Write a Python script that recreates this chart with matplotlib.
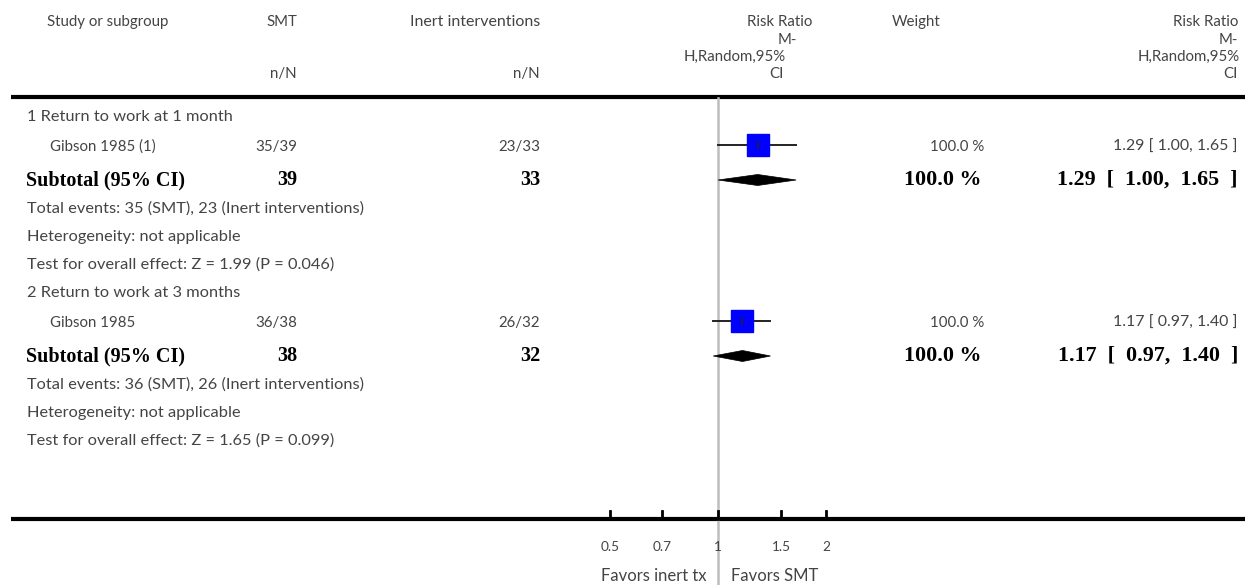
import matplotlib
matplotlib.use("Agg")
import matplotlib.pyplot as plt
from matplotlib.patches import Polygon
import numpy as np

# ---------------- data ----------------
header_cols = ["Study or subgroup", "SMT", "Inert interventions", "Weight"]
effect_header = ["Risk Ratio", "M-", "H,Random,95%", "CI"]
group_titles = ["1 Return to work at 1 month", "2 Return to work at 3 months"]
study_names = ["Gibson 1985 (1)", "Gibson 1985"]
smt_events = [35, 36]
smt_total = [39, 38]
inert_events = [23, 26]
inert_total = [33, 32]
rr = [1.29, 1.17]
rr_lo = [1.00, 0.97]
rr_hi = [1.65, 1.40]
weights = [100.0, 100.0]
z_values = ["1.99", "1.65"]
p_values = ["0.046", "0.099"]
tick_values = [0.5, 0.7, 1, 1.5, 2]
tick_labels = ["0.5", "0.7", "1", "1.5", "2"]
favors = ["Favors inert tx", "Favors SMT"]

# ---------------- layout ----------------
W, H = 1259, 585
fig = plt.figure(figsize=(W / 100, H / 100), dpi=100)
ax = fig.add_axes([0, 0, 1, 1])
ax.set_xlim(0, W)
ax.set_ylim(H, 0)
ax.axis("off")

# forest axes: log scale, 1 at px 718, 156 px per ln unit
fx0, fx1 = 560, 880
ln_lo = (fx0 - 718) / 156.0
ln_hi = (fx1 - 718) / 156.0
fax = fig.add_axes([fx0 / W, 0, (fx1 - fx0) / W, 1])
fax.set_xscale("log")
fax.set_xlim(np.exp(ln_lo), np.exp(ln_hi))
fax.set_ylim(H, 0)
fax.axis("off")
fax.patch.set_alpha(0)

FAM = ["Lato", "DejaVu Sans"]
HDR = dict(family=FAM, fontsize=10.8, color="#444444")
BODY = dict(family=FAM, fontsize=11.8, color="#444444")
NUM = dict(family=FAM, fontsize=10.8, color="#444444")
CIS = dict(family=FAM, fontsize=11.4, color="#444444")
BOLD = dict(family=["Liberation Serif", "DejaVu Serif"], fontsize=14.5, color="black", weight="bold")
BOLDR = dict(BOLD, fontsize=15.8)

# header
ax.text(108, 22, header_cols[0], ha="center", va="center", **HDR)
ax.text(297, 22, header_cols[1], ha="right", va="center", **HDR)
ax.text(540, 22, header_cols[2], ha="right", va="center", **dict(HDR, fontsize=11.5))
ax.text(916, 22, header_cols[3], ha="center", va="center", **HDR)
ax.text(297, 74, "n/N", ha="right", va="center", **HDR)
ax.text(540, 74, "n/N", ha="right", va="center", **HDR)

hdr_y = [22, 40, 57, 74]
mid_right = [812, 797, 786, 784]
right_right = [1238, 1238, 1240, 1238]
for t, y, xm, xr in zip(effect_header, hdr_y, mid_right, right_right):
    ax.text(xm, y, t, ha="right", va="center", **HDR)
    ax.text(xr, y, t, ha="right", va="center", **HDR)

ax.plot([11, 1245], [97, 97], color="black", lw=3, solid_capstyle="butt")
ax.plot([11, 1245], [519, 519], color="black", lw=3, solid_capstyle="butt")

# reference line at RR = 1
fax.plot([1, 1], [98, 585], color="#bdbdbd", lw=1.8, zorder=1)

SP = "  "
group_y0 = [117, 293]
for g in range(2):
    y0 = group_y0[g]
    y_study = y0 + 30
    y_sub = y0 + 63
    ax.text(27, y0, group_titles[g], ha="left", va="center", **BODY)
    ax.text(50, y_study, study_names[g], ha="left", va="center", **NUM)
    ax.text(297, y_study, f"{smt_events[g]}/{smt_total[g]}", ha="right", va="center", **NUM)
    ax.text(540, y_study, f"{inert_events[g]}/{inert_total[g]}", ha="right", va="center", **NUM)
    ax.text(984, y_study, f"{weights[g]:.1f} %", ha="right", va="center", **NUM)
    ax.text(1238, y_study, f"{rr[g]:.2f} [ {rr_lo[g]:.2f}, {rr_hi[g]:.2f} ]",
            ha="right", va="center", **CIS)

    ax.text(26, y_sub, "Subtotal (95% CI)", ha="left", va="center", **BOLD)
    ax.text(297, y_sub, f"{smt_total[g]}", ha="right", va="center", **BOLD)
    ax.text(540, y_sub, f"{inert_total[g]}", ha="right", va="center", **BOLD)
    ax.text(982, y_sub, f"{weights[g]:.1f} %", ha="right", va="center", **BOLDR)
    ax.text(1238, y_sub, f"{rr[g]:.2f}{SP}[{SP}{rr_lo[g]:.2f},{SP}{rr_hi[g]:.2f}{SP}]",
            ha="right", va="center", **BOLDR)

    ax.text(27, y0 + 92, f"Total events: {smt_events[g]} (SMT), {inert_events[g]} (Inert interventions)",
            ha="left", va="center", **BODY)
    ax.text(27, y0 + 120, "Heterogeneity: not applicable", ha="left", va="center", **BODY)
    ax.text(27, y0 + 148, f"Test for overall effect: Z = {z_values[g]} (P = {p_values[g]})",
            ha="left", va="center", **BODY)

    # study CI and square
    fax.plot([rr_lo[g], rr_hi[g]], [y_study - 2, y_study - 2], color="#222222", lw=1.4, zorder=2)
    fax.plot([rr[g]], [y_study - 2], marker="s", ms=15.8, mfc="#0000ff", mec="#0000ff",
             ls="none", zorder=3)
    fax.plot([rr[g], rr[g]], [y_study - 5, y_study + 1], color="#222222", lw=1.2, zorder=4)
    # subtotal diamond
    dia = Polygon([(rr_lo[g], y_sub), (rr[g], y_sub - 5.5), (rr_hi[g], y_sub), (rr[g], y_sub + 5.5)],
                  closed=True, facecolor="black", edgecolor="black", lw=0.5, zorder=3)
    fax.add_patch(dia)

# ticks
for v, lab in zip(tick_values, tick_labels):
    fax.plot([v, v], [511, 519], color="black", lw=2, zorder=2)
    fax.text(v, 547, lab, ha="center", va="center", **dict(NUM, fontsize=9.8))

ax.text(707, 576, favors[0], ha="right", va="center", **dict(BODY, fontsize=12))
ax.text(731, 576, favors[1], ha="left", va="center", **dict(BODY, fontsize=12))

fig.savefig("out.png", dpi=100)
